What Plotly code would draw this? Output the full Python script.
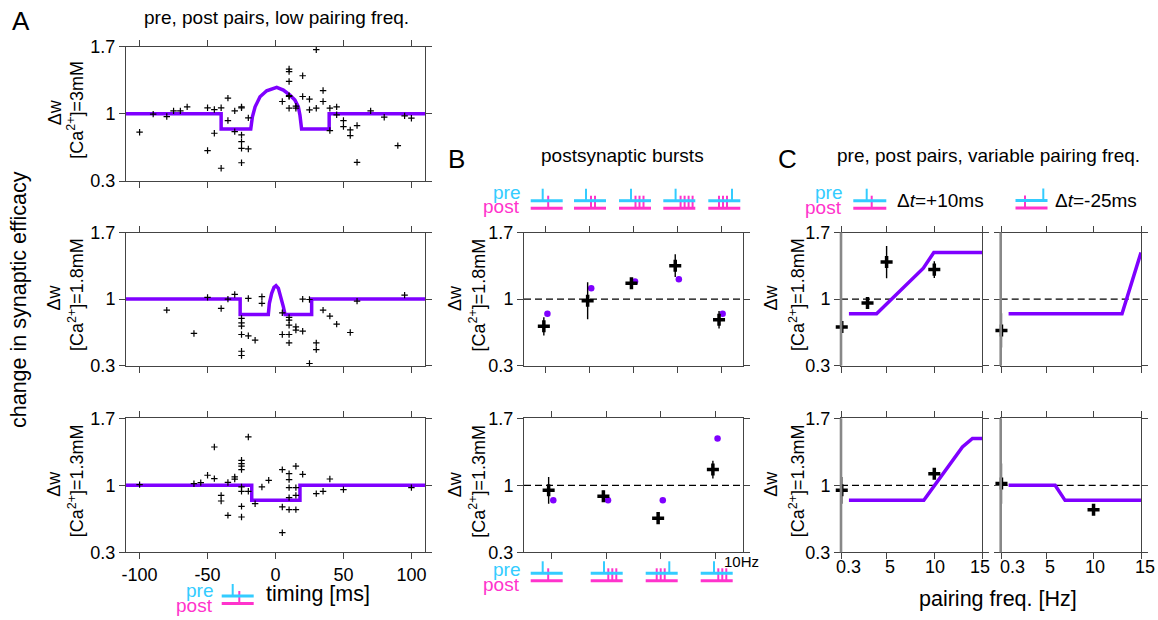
import plotly.graph_objects as go

# ---------------- data ----------------
# Panel A: pre/post pairs at low pairing frequency, (timing [ms], delta w)
A_top_points = [(-100, 0.809), (-90, 0.997), (-80, 0.972), (-75, 1.031), (-70, 1.031), (-65, 1.073),
                (-50, 1.063), (-45, 1.045), (-45, 0.798), (-50, 0.617), (-40, 0.433), (-40, 1.063),
                (-35, 1.164), (-35, 0.930), (-30, 1.031), (-30, 0.815), (-25, 1.073), (-25, 1.063),
                (-25, 0.78), (-25, 0.71), (-25, 0.641), (-25, 0.49), (-20, 0.634), (-20, 0.958),
                (10, 1.467), (10, 1.44), (10, 1.338), (5, 1.129), (10, 1.181), (10, 1.059), (10, 1.19),
                (15, 1.059), (15, 1.08), (20, 1.397), (20, 1.181), (25, 1.153), (25, 1.042),
                (30, 1.669), (30, 1.059), (35, 1.243), (35, 1.129), (40, 1.059), (40, 0.826),
                (45, 1.073), (45, 0.99), (50, 0.93), (50, 0.867), (55, 0.833), (55, 0.773),
                (60, 0.878), (60, 0.495), (70, 1.031), (80, 0.965), (90, 0.669), (95, 0.979), (100, 0.955)]
A_mid_points = [(-80, 0.884), (-60, 0.639), (-50, 1.018), (-40, 0.902), (-35, 1.0), (-30, 1.049),
                (-25, 0.797), (-25, 0.751), (-25, 0.716), (-25, 0.628), (-20, 0.614), (-15, 0.568),
                (-25, 0.452), (-25, 0.407), (-20, 1.007), (-10, 1.025), (-10, 0.955), (5, 0.856),
                (5, 0.628), (10, 0.807), (10, 0.779), (10, 0.726), (10, 0.628), (10, 0.54),
                (15, 0.709), (15, 0.674), (20, 0.663), (20, 1.0), (25, 0.996), (30, 0.54), (30, 0.47),
                (25, 0.323), (35, 0.884), (40, 0.821), (45, 0.737), (55, 0.649), (60, 0.979), (95, 1.042)]
A_bot_points = [(-100, 1.007), (-60, 1.017), (-55, 1.028), (-50, 1.105), (-45, 1.07), (-45, 1.40),
                (-40, 0.895), (-40, 0.836), (-35, 1.03), (-35, 0.686), (-30, 1.087), (-30, 1.065),
                (-25, 1.261), (-25, 1.226), (-25, 1.2), (-25, 1.164), (-25, 0.983), (-25, 0.937),
                (-25, 0.78), (-25, 0.669), (-20, 1.505), (-20, 0.937), (-15, 0.808), (-10, 0.983),
                (-5, 1.052), (5, 1.164), (5, 0.774), (5, 0.505), (10, 1.122), (10, 1.059), (10, 0.976),
                (10, 0.871), (10, 0.746), (15, 1.2), (15, 0.976), (15, 0.895), (15, 0.746), (20, 1.115),
                (30, 0.913), (35, 0.937), (40, 1.066), (50, 0.955), (100, 0.976)]

A_top_model_t = [-110, -40, -40, -18.2, -17, -15, -11.4, -6.5, 0.9, 5.8, 10.6, 14.3, 16.8, 18, 19.2, 39.5, 39.5, 110]
A_top_model_dw = [1, 1, 0.843, 0.843, 0.969, 1.073, 1.178, 1.241, 1.276, 1.248, 1.195, 1.143, 1.073, 0.986, 0.843, 0.843, 1, 1]
A_mid_model_t = [-110, -26, -26, -5.3, -4.5, -2.8, -1.1, 0.4, 2.1, 4.0, 5.8, 7.0, 26.6, 26.6, 110]
A_mid_model_dw = [1, 1, 0.839, 0.839, 0.955, 1.06, 1.123, 1.141, 1.113, 1.025, 0.919, 0.839, 0.839, 1, 1]
A_bot_model_t = [-110, -17.5, -17.5, 18, 18, 110]
A_bot_model_dw = [1, 1, 0.843, 0.843, 1, 1]
A_ticks = [-100, -50, 0, 50, 100]
A_ticklabels = ["-100", "-50", "0", "50", "100"]

# Panel B: postsynaptic bursts
B_top_data = [0.714, 0.982, 1.167, 1.351, 0.784]
B_top_err = [0.096, 0.195, 0.055, 0.12, 0.092]
B_top_model = [0.846, 1.115, 1.184, 1.209, 0.846]
B_bot_data = [0.948, 0.885, 0.657, 1.164]
B_bot_err = [0.14, 0.058, 0.03, 0.093]
B_bot_model = [0.8425, 0.8425, 0.8425, 1.49]

# Panel C: variable pairing frequency
C_tl_f = [0.3, 3, 5, 10]
C_tl_dw = [0.706, 0.958, 1.389, 1.31]
C_tl_err = [0.05, 0.04, 0.17, 0.088]
C_tl_model_f = [1.05, 3.95, 8.85, 9.95, 15]
C_tl_model_dw = [0.846, 0.846, 1.325, 1.49, 1.49]
C_tr_f = [0.3]
C_tr_dw = [0.671]
C_tr_err = [0.18]
C_tr_model_f = [1.05, 13.0, 15]
C_tr_model_dw = [0.846, 0.846, 1.49]
C_bl_f = [0.3, 10]
C_bl_dw = [0.948, 1.12]
C_bl_err = [0.14, 0.045]
C_bl_model_f = [1.05, 8.9, 12.95, 14.0, 15]
C_bl_model_dw = [0.8425, 0.8425, 1.40, 1.49, 1.49]
C_br_f = [0.3, 10]
C_br_dw = [1.018, 0.745]
C_br_err = [0.21, 0.02]
C_br_model_f = [1.05, 5.95, 7.0, 15]
C_br_model_dw = [1.0, 1.0, 0.8425, 0.8425]
C_ticks = [0.3, 5, 10, 15]
C_ticklabels = ["0.3", "5", "10", "15"]

Y_ticks = [0.3, 1, 1.7]
Y_ticklabels = ["0.3", "1", "1.7"]

# ---------------- style ----------------
W, H = 1158, 620
FONT = "Liberation Sans, Arial, Helvetica, sans-serif"
PURPLE = "#7f00ff"
CYAN = "#33ccff"
MAGENTA = "#ff33cc"
AX = "#444444"


def px(x):
    return x / W


def py(y):
    return 1 - y / H


fig = go.Figure()
layout = dict(width=W, height=H, margin=dict(l=0, r=0, t=0, b=0, pad=0),
              paper_bgcolor="white", plot_bgcolor="white", showlegend=False,
              font=dict(family=FONT, size=18, color="black"))
shapes = []
annotations = []

# subplot geometry in pixels
A_X = (126, 425)
B_X = (524, 743)
CL_X = (841, 982)
CR_X = (1000.7, 1141)
ROW1 = (46.7, 181)
ROW2 = (232.5, 365.7)
ROW3 = (418.3, 552.3)


def base_axis():
    return dict(showline=True, linecolor=AX, linewidth=1, mirror="ticks", ticks="outside",
                ticklen=6, tickwidth=1, tickcolor=AX, showgrid=False, zeroline=False,
                automargin=False, fixedrange=True,
                tickfont=dict(size=18, color="black", family=FONT))


subplots = [
    # idx, xdom, ydom, xrange, xtickvals, xticktext, show x labels, show y labels
    (1, A_X, ROW1, [-110, 110], A_ticks, A_ticklabels, False, True),
    (2, A_X, ROW2, [-110, 110], A_ticks, A_ticklabels, False, True),
    (3, A_X, ROW3, [-110, 110], A_ticks, A_ticklabels, True, True),
    (4, B_X, ROW2, [-0.5, 4.5], [0, 1, 2, 3, 4], None, False, True),
    (5, B_X, ROW3, [-0.5, 3.5], [0, 1, 2, 3], None, False, True),
    (6, CL_X, ROW2, [0.22, 15], C_ticks, C_ticklabels, False, True),
    (7, CR_X, ROW2, [0.22, 15], C_ticks, C_ticklabels, False, False),
    (8, CL_X, ROW3, [0.22, 15], C_ticks, C_ticklabels, False, True),
    (9, CR_X, ROW3, [0.22, 15], C_ticks, C_ticklabels, False, False),
]

for idx, xd, yd, xr, xtv, xtt, showx, showy in subplots:
    xa = base_axis()
    xa.update(domain=[px(xd[0]), px(xd[1])], range=xr, tickvals=xtv, anchor=f"y{idx}",
              showticklabels=showx)
    if xtt is not None:
        xa["ticktext"] = xtt
    ya = base_axis()
    ya.update(domain=[py(yd[1]), py(yd[0])], range=[0.3, 1.7], tickvals=Y_ticks,
              ticktext=Y_ticklabels, anchor=f"x{idx}", showticklabels=showy)
    layout[f"xaxis{idx}" if idx > 1 else "xaxis"] = xa
    layout[f"yaxis{idx}" if idx > 1 else "yaxis"] = ya


def ax(idx):
    return dict(xaxis=f"x{idx}", yaxis=f"y{idx}")


def model_line(xs, ys, idx):
    fig.add_trace(go.Scatter(x=xs, y=ys, mode="lines", line=dict(color=PURPLE, width=3.5),
                             hoverinfo="skip", **ax(idx)))


def thin_points(points, idx):
    fig.add_trace(go.Scatter(x=[p[0] for p in points], y=[p[1] for p in points], mode="markers",
                             marker=dict(symbol="cross-thin", size=4.6, color="black",
                                         line=dict(width=1.2, color="black")),
                             cliponaxis=False, **ax(idx)))


def big_crosses(xs, ys, errs, idx):
    fig.add_trace(go.Scatter(x=xs, y=ys, mode="markers",
                             marker=dict(symbol="cross-thin", size=8.6, color="black",
                                         line=dict(width=3.5, color="black")),
                             error_y=dict(type="data", array=errs, visible=True, thickness=1.4,
                                          width=0, color="black"),
                             cliponaxis=False, **ax(idx)))


def dots(xs, ys, idx):
    fig.add_trace(go.Scatter(x=xs, y=ys, mode="markers",
                             marker=dict(symbol="circle", size=6.5, color=PURPLE),
                             cliponaxis=False, **ax(idx)))


def dashed_one(idx):
    shapes.append(dict(type="line", xref=f"x{idx} domain", x0=0, x1=1, yref=f"y{idx}", y0=1, y1=1,
                       line=dict(color="black", width=1.2, dash="7px,4px"), layer="below"))


# Panel A
model_line(A_top_model_t, A_top_model_dw, 1)
thin_points(A_top_points, 1)
model_line(A_mid_model_t, A_mid_model_dw, 2)
thin_points(A_mid_points, 2)
model_line(A_bot_model_t, A_bot_model_dw, 3)
thin_points(A_bot_points, 3)

# Panel B
dashed_one(4)
dashed_one(5)
dots([i + 0.035 for i in range(len(B_top_model))], B_top_model, 4)
big_crosses([i - 0.047 for i in range(len(B_top_data))], B_top_data, B_top_err, 4)
dots([i + 0.035 for i in range(len(B_bot_model))], B_bot_model, 5)
big_crosses([i - 0.05 for i in range(len(B_bot_data))], B_bot_data, B_bot_err, 5)

# Panel C
for idx in (6, 7, 8, 9):
    dashed_one(idx)
    shapes.append(dict(type="line", xref=f"x{idx} domain", x0=0, x1=0, yref=f"y{idx} domain",
                       y0=0, y1=1, line=dict(color="#888888", width=2.6)))
model_line(C_tl_model_f, C_tl_model_dw, 6)
big_crosses(C_tl_f, C_tl_dw, C_tl_err, 6)
model_line(C_tr_model_f, C_tr_model_dw, 7)
big_crosses(C_tr_f, C_tr_dw, C_tr_err, 7)
model_line(C_bl_model_f, C_bl_model_dw, 8)
big_crosses(C_bl_f, C_bl_dw, C_bl_err, 8)
model_line(C_br_model_f, C_br_model_dw, 9)
big_crosses(C_br_f, C_br_dw, C_br_err, 9)


# ---------------- text ----------------
def ann(text, x, y, size=19, color="black", xanchor="center", yanchor="middle", angle=0):
    annotations.append(dict(text=text, x=px(x), y=py(y), xref="paper", yref="paper",
                            showarrow=False, xanchor=xanchor, yanchor=yanchor, textangle=angle,
                            font=dict(size=size, color=color, family=FONT)))


# panel letters and titles
ann("A", 21, 21, size=26)
ann("B", 456.5, 159, size=26)
ann("C", 787.5, 159, size=26)
ann("pre, post pairs, low pairing freq.", 276.5, 17)
ann("postsynaptic bursts", 622.5, 155.5)
ann("pre, post pairs, variable pairing freq.", 988, 156)

ann("change in synaptic efficacy", 19, 300, size=21.5, angle=-90)
ann("timing [ms]", 317.5, 594, size=21.5)
ann("pairing freq. [Hz]", 997.7, 599, size=21.5)

# y labels
ylabels = [
    (A_X[0], ROW1, "3mM", 71.5, 50),
    (A_X[0], ROW2, "1.8mM", 71.5, 50),
    (A_X[0], ROW3, "1.3mM", 71.5, 50),
    (B_X[0], ROW2, "1.8mM", 69, 46.5),
    (B_X[0], ROW3, "1.3mM", 69, 46.5),
    (CL_X[0], ROW2, "1.8mM", 69.5, 44),
    (CL_X[0], ROW3, "1.3mM", 69.5, 44),
]
for left, row, conc, d1, d2 in ylabels:
    cy = (row[0] + row[1]) / 2
    ann("Δw", left - d1, cy - 1, size=18, angle=-90)
    ann(f"[Ca<sup>2+</sup>]={conc}", left - d2, cy - 4, size=18, angle=-90)

# C bottom x tick labels (placed individually so adjacent panels do not collide)
for idx, shifts in ((8, [7, 3.5, 0.5, -2]), (9, [11, 3.5, 1, 4])):
    for v, lab, s in zip(C_ticks, C_ticklabels, shifts):
        annotations.append(dict(text=lab, x=v, xref=f"x{idx}", y=py(567), yref="paper",
                                xshift=s, showarrow=False, xanchor="center", yanchor="middle",
                                font=dict(size=18, color="black", family=FONT)))

ann("10Hz", 721.7, 561, size=15, xanchor="left")
ann("Δ<i>t</i>=+10ms", 895, 200.5, xanchor="left")
ann("Δ<i>t</i>=-25ms", 1052.7, 200.5, xanchor="left")


# pre/post pictograms
def pline(x0, y0, x1, y1, color, width):
    shapes.append(dict(type="line", xref="paper", yref="paper", x0=px(x0), x1=px(x1),
                       y0=py(y0), y1=py(y1), line=dict(color=color, width=width)))


def picto(left, y0, pre, post, width=32):
    y1 = y0 + 7.5
    for o in post:
        pline(left + o, y0 - 5, left + o, y1, MAGENTA, 2)
    pline(left, y1, left + width, y1, MAGENTA, 3)
    pline(left, y0, left + width, y0, CYAN, 3)
    for o in pre:
        pline(left + o, y0 - 12, left + o, y0, CYAN, 2)


def prepost(right, ypre, ypost):
    ann("pre", right, ypre, color=CYAN, xanchor="right")
    ann("post", right, ypost, color=MAGENTA, xanchor="right")


# A
prepost(215, 590, 605)
picto(221.7, 596, [11], [17.6])
# B top
prepost(521.7, 192, 206.5)
picto(530.7, 200.7, [12], [17.5])
picto(574, 200.7, [12], [17, 21])
picto(619, 200.7, [12], [16.5, 20.5, 24.5])
picto(663.3, 200.7, [12.3], [17.3, 21.3, 25.3, 29.3])
picto(708.3, 200.7, [23.7], [10.7, 14.7, 18.7])
# B bottom
prepost(521.7, 569, 584.5)
picto(530.7, 573.3, [12], [17.5])
picto(590.7, 573.3, [13.3], [17.6, 21.6, 25.6])
picto(645.7, 573.3, [23.6], [11, 15, 19])
picto(700.7, 573.3, [13.3], [17.6, 21.6, 25.6])
# C
prepost(844, 192, 207.5)
picto(853.3, 200.7, [13.4], [18.4], width=33)
picto(1015.5, 200.5, [27.8], [9.5], width=32)

layout["shapes"] = shapes
layout["annotations"] = annotations
fig.update_layout(**layout)

fig.write_html("out.html", config={"displayModeBar": False, "staticPlot": True},
               post_script="document.body.style.margin='0';")
